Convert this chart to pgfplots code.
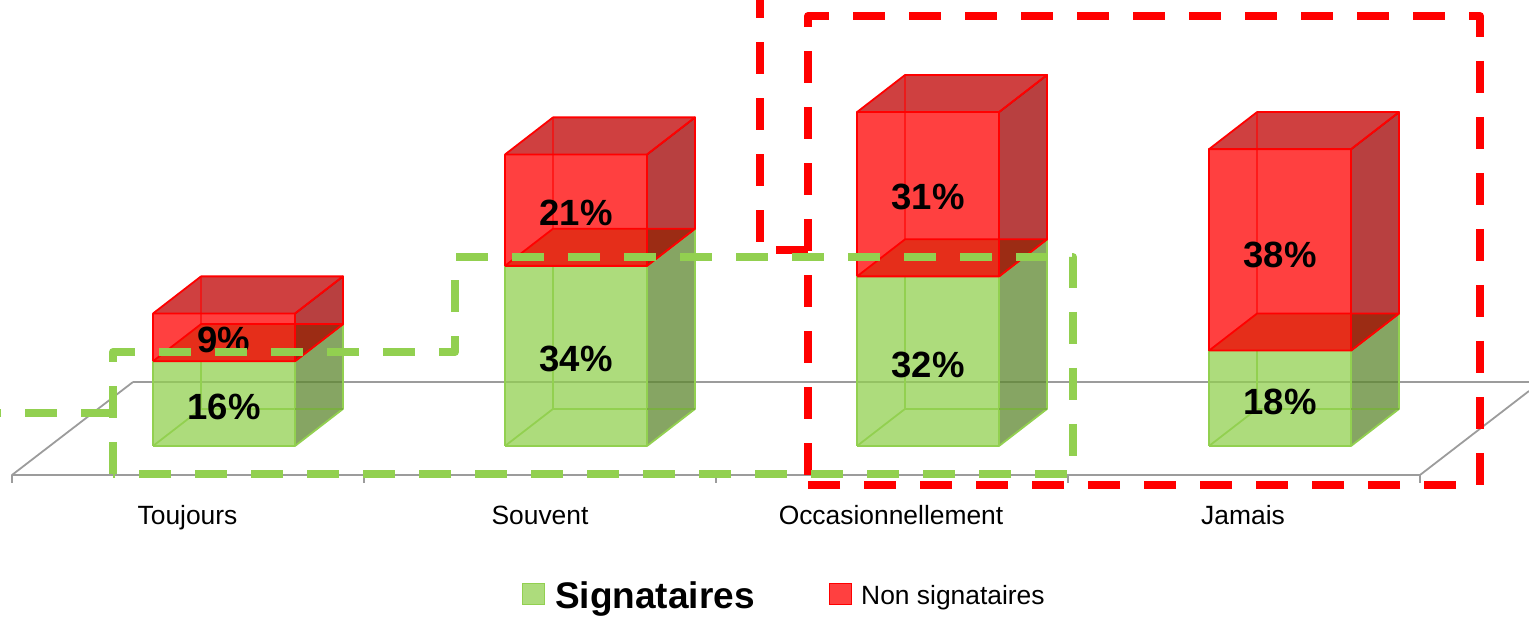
\documentclass[border=0pt]{standalone}
\usepackage{fontspec}
\setmainfont{Liberation Sans}
\usepackage{pgfplots}
\pgfplotsset{compat=1.18}

\definecolor{sigGreen}{HTML}{92D050}
\definecolor{sigSide}{HTML}{5E872F}
\definecolor{nonRed}{HTML}{FF0000}
\definecolor{nonSide}{HTML}{A00000}
\definecolor{nonTop}{HTML}{BF0000}
\definecolor{floorFront}{HTML}{E52E1A}
\definecolor{floorSide}{HTML}{9C2C14}
\definecolor{axisGrey}{HTML}{9C9C9C}

% Half bar width and oblique depth of the boxes, in axis units
\def\hw{0.2017}
\def\dx{0.1364}
\def\dy{7}

\newcommand{\boxcorners}[3]{%
  \pgfmathsetmacro{\xl}{#1-\hw}%
  \pgfmathsetmacro{\xr}{#1+\hw}%
  \pgfmathsetmacro{\xL}{#1-\hw+\dx}%
  \pgfmathsetmacro{\xR}{#1+\hw+\dx}%
  \pgfmathsetmacro{\yl}{#2}%
  \pgfmathsetmacro{\yh}{#3}%
  \pgfmathsetmacro{\yL}{#2+\dy}%
  \pgfmathsetmacro{\yH}{#3+\dy}%
}

% Lower box of a stack
\newcommand{\greenbox}[3]{%
  \boxcorners{#1}{#2}{#3}%
  \addplot[draw=sigGreen,line width=1.8pt,fill=sigSide,fill opacity=.75,line join=round]
    coordinates {(\xr,\yl)(\xR,\yL)(\xR,\yH)(\xr,\yh)(\xr,\yl)};
  \addplot[draw=sigGreen,line width=1.8pt,fill=sigGreen,fill opacity=.75,line join=round]
    coordinates {(\xl,\yl)(\xr,\yl)(\xr,\yh)(\xl,\yh)(\xl,\yl)};
  \addplot[draw=sigGreen,line width=1.8pt,line join=round]
    coordinates {(\xl,\yl)(\xL,\yL)(\xL,\yh)};
  \addplot[draw=sigGreen,line width=1.8pt]
    coordinates {(\xL,\yL)(\xR,\yL)};
  \addplot[draw=sigSide,line width=1.8pt,opacity=.45]
    coordinates {(\xr,\yL)(\xR,\yL)};
}

% Upper box of a stack, with the floor it rests on showing through
\newcommand{\redbox}[3]{%
  \boxcorners{#1}{#2}{#3}%
  \addplot[draw=nonRed,line width=1.8pt,fill=nonTop,fill opacity=.75,line join=round]
    coordinates {(\xl,\yh)(\xr,\yh)(\xR,\yH)(\xL,\yH)(\xl,\yh)};
  \addplot[draw=nonRed,line width=1.8pt,fill=nonSide,fill opacity=.75,line join=round]
    coordinates {(\xr,\yl)(\xR,\yL)(\xR,\yH)(\xr,\yh)(\xr,\yl)};
  \addplot[draw=nonRed,line width=1.8pt,fill=nonRed,fill opacity=.75,line join=round]
    coordinates {(\xl,\yl)(\xr,\yl)(\xr,\yh)(\xl,\yh)(\xl,\yl)};
  \addplot[draw=none,fill=floorFront]
    coordinates {(\xl,\yl)(\xr,\yl)(\xr,\yL)(\xL,\yL)(\xl,\yl)};
  \addplot[draw=none,fill=floorSide]
    coordinates {(\xr,\yl)(\xR,\yL)(\xr,\yL)(\xr,\yl)};
  \addplot[draw=nonRed,line width=1.8pt,line join=round]
    coordinates {(\xl,\yl)(\xL,\yL)(\xR,\yL)(\xr,\yl)(\xl,\yl)};
  \addplot[draw=nonRed,line width=1.8pt]
    coordinates {(\xr,\yl)(\xr,\yh)};
  \addplot[draw=nonRed,line width=1.8pt,opacity=.6]
    coordinates {(\xL,\yL)(\xL,\yH)};
}

\begin{document}
\begin{tikzpicture}[x=1pt,y=1pt]
  \useasboundingbox (0,0) rectangle (1529,616);

  % Floor of the chart and category ticks
  \begin{scope}[draw=axisGrey,line width=1.8pt,line join=round]
    \draw (133,234) -- (12,141) -- (1420,141) -- (1529,225);
    \draw (133,234) -- (1529,234);
    \foreach \t in {12,364,716,1068,1420}
      \draw (\t,141) -- (\t,133);
  \end{scope}

  \begin{axis}[
      at={(0,0)},anchor=south west,
      scale only axis,width=1529pt,height=616pt,
      xmin=-0.63636,xmax=3.70739,
      ymin=-32.075,ymax=84.15,
      hide axis,clip=false]

    % Signataires
    \greenbox{0}{0}{16}
    \greenbox{1}{0}{34}
    \greenbox{2}{0}{32}
    \greenbox{3}{0}{18}

    % Non signataires, stacked on top
    \redbox{0}{16}{25}
    \redbox{1}{34}{55}
    \redbox{2}{32}{63}
    \redbox{3}{18}{56}

    % Values printed on the boxes
    \addplot[draw=none,mark=none,
      point meta=explicit symbolic,
      nodes near coords,
      nodes near coords align={anchor=center},
      every node near coord/.append style={
        font=\fontsize{36.5}{40}\selectfont\bfseries,text=black,
        inner sep=0pt,anchor=center}]
      coordinates {
        (0,7.45) [16\%] (1,16.35)[34\%] (2,15.3) [32\%] (3,8.4)  [18\%]
        (0,20.05)[9\%]  (1,43.95)[21\%] (2,47.0) [31\%] (3,36.0) [38\%]
      };
  \end{axis}

  % Category names
  \begin{scope}[every node/.style={anchor=base,inner sep=0pt,
      font=\fontsize{26.4}{30}\selectfont}]
    \node at (187.5,91.5) {Toujours};
    \node at (540,91.5) {Souvent};
    \node at (891,91.5) {Occasionnellement};
    \node at (1243,91.5) {Jamais};
  \end{scope}

  % Legend
  \filldraw[draw=sigGreen,fill=sigGreen,fill opacity=.75,line width=1.8pt]
    (522.5,11.5) rectangle (544.5,32.5);
  \node[anchor=base west,inner sep=0pt,font=\fontsize{37}{40}\selectfont\bfseries]
    at (555,8) {Signataires};
  \filldraw[draw=nonRed,fill=nonRed,fill opacity=.75,line width=1.8pt]
    (829.5,11.5) rectangle (851.5,32.5);
  \node[anchor=base west,inner sep=0pt,font=\fontsize{26.4}{30}\selectfont]
    at (861,12) {Non signataires};

  % Dashed groupings
  \begin{scope}[line width=8pt,dash pattern=on 32pt off 24pt,line join=round]
    \draw[nonRed] (808,141) -- (808,600) -- (1480,600) -- (1480,131) -- (808,131);
    \draw[nonRed] (808,366) -- (760,366) -- (760,616);
    \draw[sigGreen] (113,142) -- (113,264) -- (455,264) -- (455,359) -- (1073,359)
      -- (1073,142) -- (113,142);
    \draw[sigGreen] (113,203) -- (0,203);
  \end{scope}
\end{tikzpicture}
\end{document}
